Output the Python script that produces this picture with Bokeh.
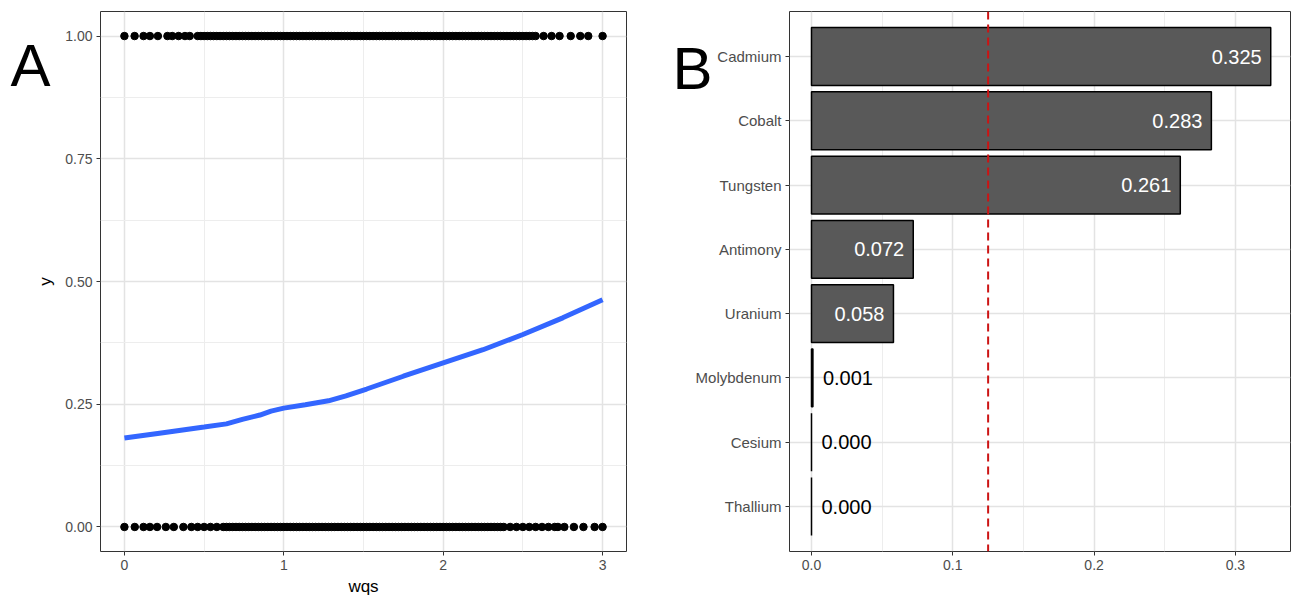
from bokeh.plotting import figure
from bokeh.layouts import row
from bokeh.models import (Range1d, FactorRange, FixedTicker, Span, Label,
                          ColumnDataSource, NumeralTickFormatter)
from bokeh.core.properties import value
from bokeh.embed import file_html
from bokeh.resources import INLINE

FONT = "Liberation Sans"

# ---------------- data (panel A) ----------------
# wqs values of subjects with outcome y = 1
wqs_outcome1 = [0.00, 0.064, 0.12, 0.16, 0.21, 0.27, 0.30, 0.34, 0.38, 0.41, 0.46,
                0.48, 0.50, 0.52, 0.54, 0.56, 0.58, 0.60, 0.62, 0.64, 0.66, 0.68,
                0.70, 0.72, 0.74, 0.76, 0.78, 0.80, 0.82, 0.84, 0.86, 0.88, 0.90,
                0.92, 0.94, 0.96, 0.98, 1.00, 1.02, 1.04, 1.06, 1.08, 1.10, 1.12,
                1.14, 1.16, 1.18, 1.20, 1.22, 1.24, 1.26, 1.28, 1.30, 1.32, 1.34,
                1.36, 1.38, 1.40, 1.42, 1.44, 1.46, 1.48, 1.50, 1.52, 1.54, 1.56,
                1.58, 1.60, 1.62, 1.64, 1.66, 1.68, 1.70, 1.72, 1.74, 1.76, 1.78,
                1.80, 1.82, 1.84, 1.86, 1.88, 1.90, 1.92, 1.94, 1.96, 1.98, 2.00,
                2.02, 2.04, 2.06, 2.08, 2.10, 2.12, 2.14, 2.16, 2.18, 2.20, 2.22,
                2.24, 2.26, 2.28, 2.30, 2.32, 2.34, 2.36, 2.38, 2.40, 2.42, 2.44,
                2.46, 2.48, 2.50, 2.52, 2.54, 2.56, 2.58, 2.63, 2.68, 2.73, 2.80,
                2.86, 2.91, 3.00]
# wqs values of subjects with outcome y = 0
wqs_outcome0 = [0.00, 0.065, 0.12, 0.16, 0.205, 0.26, 0.31, 0.37, 0.42, 0.46, 0.50,
                0.54, 0.58, 0.62, 0.64, 0.66, 0.68, 0.70, 0.72, 0.74, 0.76, 0.78,
                0.80, 0.82, 0.84, 0.86, 0.88, 0.90, 0.92, 0.94, 0.96, 0.98, 1.00,
                1.02, 1.04, 1.06, 1.08, 1.10, 1.12, 1.14, 1.16, 1.18, 1.20, 1.22,
                1.24, 1.26, 1.28, 1.30, 1.32, 1.34, 1.36, 1.38, 1.40, 1.42, 1.44,
                1.46, 1.48, 1.50, 1.52, 1.54, 1.56, 1.58, 1.60, 1.62, 1.64, 1.66,
                1.68, 1.70, 1.72, 1.74, 1.76, 1.78, 1.80, 1.82, 1.84, 1.86, 1.88,
                1.90, 1.92, 1.94, 1.96, 1.98, 2.00, 2.02, 2.04, 2.06, 2.08, 2.10,
                2.12, 2.14, 2.16, 2.18, 2.20, 2.22, 2.24, 2.26, 2.28, 2.30, 2.32,
                2.34, 2.36, 2.38, 2.42, 2.46, 2.50, 2.54, 2.58, 2.62, 2.66, 2.70,
                2.72, 2.76, 2.82, 2.88, 2.95, 3.00]
# smoothed fit (blue curve)
smooth_wqs = [0.0, 0.22, 0.5, 0.64, 0.74, 0.85, 0.92, 1.0, 1.135, 1.28, 1.39, 1.52,
              1.75, 2.0, 2.25, 2.5, 2.75, 3.0]
smooth_fit = [0.181, 0.191, 0.2035, 0.210, 0.219, 0.228, 0.236, 0.242, 0.249, 0.257,
              0.267, 0.281, 0.307, 0.334, 0.361, 0.392, 0.426, 0.463]
a_x_ticks = [0, 1, 2, 3]
a_y_ticks = [0.0, 0.25, 0.5, 0.75, 1.0]

# ---------------- data (panel B) ----------------
metals = ["Cadmium", "Cobalt", "Tungsten", "Antimony", "Uranium",
          "Molybdenum", "Cesium", "Thallium"]
weights = [0.325, 0.283, 0.261, 0.072, 0.058, 0.001, 0.000, 0.000]
weight_labels = ["0.325", "0.283", "0.261", "0.072", "0.058", "0.001", "0.000", "0.000"]
b_x_ticks = [0.0, 0.1, 0.2, 0.3]
cutoff = 1.0 / len(metals)

# ---------------- geometry (page pixels) ----------------
H = 598
SHIFT_A = 12                      # left figure pulled left by this many px
A_LEFT, A_RIGHT, A_TOP, A_BOT = 100, 626, 11, 553
B_ORIGIN = 640
B_LEFT, B_RIGHT, B_TOP, B_BOT = 789, 1290, 11, 575
W1 = B_ORIGIN + SHIFT_A
W2 = 1293 - B_ORIGIN


def midpoints(t):
    return [(a + b) / 2 for a, b in zip(t[:-1], t[1:])]


def style(p, cat_size="14px"):
    p.background_fill_color = "white"
    p.border_fill_color = "white"
    p.outline_line_color = "#333333"
    p.outline_line_width = 1
    for ax in p.axis:
        ax.axis_line_color = None
        ax.major_tick_line_color = "#333333"
        ax.major_tick_line_width = 1
        ax.major_tick_out = 4
        ax.major_tick_in = 0
        ax.minor_tick_line_color = None
        ax.major_label_text_font = FONT
        ax.major_label_text_font_size = "14px"
        ax.major_label_text_color = "#4D4D4D"
        ax.major_label_standoff = 4
        ax.axis_label_text_font = FONT
        ax.axis_label_text_font_size = "17px"
        ax.axis_label_text_font_style = "normal"
        ax.axis_label_text_color = "black"
    for g in p.grid:
        g.grid_line_color = "#E3E3E3"
        g.grid_line_width = 1.5
        g.minor_grid_line_color = "#EDEDED"
        g.minor_grid_line_width = 1


# ---------------- panel A ----------------
ax_lo, ax_hi = -0.15, 3.15
ay_lo, ay_hi = -0.05, 1.05
pa = figure(width=W1, height=H, output_backend="svg", toolbar_location=None,
            x_range=Range1d(ax_lo, ax_hi), y_range=Range1d(ay_lo, ay_hi),
            min_border_left=A_LEFT + SHIFT_A, min_border_right=W1 - SHIFT_A - A_RIGHT,
            min_border_top=A_TOP, min_border_bottom=H - A_BOT,
            margin=(0, 0, 0, -SHIFT_A))
style(pa)
pa.xaxis.ticker = FixedTicker(ticks=a_x_ticks, minor_ticks=midpoints(a_x_ticks))
pa.yaxis.ticker = FixedTicker(ticks=a_y_ticks, minor_ticks=midpoints(a_y_ticks))
pa.xaxis.formatter = NumeralTickFormatter(format="0")
pa.yaxis.formatter = NumeralTickFormatter(format="0.00")
pa.xaxis.axis_label = "wqs"
pa.yaxis.axis_label = "y"
pa.xaxis.axis_label_standoff = 4
pa.yaxis.axis_label_standoff = 7

pa.scatter(x=wqs_outcome1, y=[1] * len(wqs_outcome1), size=7.5,
           fill_color="black", line_color="black")
pa.scatter(x=wqs_outcome0, y=[0] * len(wqs_outcome0), size=7.5,
           fill_color="black", line_color="black")
pa.line(x=smooth_wqs, y=smooth_fit, line_color="#3366FF", line_width=5)

# panel tag "A" (placed in the left side panel so it is not clipped to the frame)
tag_a_x = ax_lo + (10 - A_LEFT) * (ax_hi - ax_lo) / (A_RIGHT - A_LEFT)
tag_a_y = ay_hi - (65 - A_TOP) * (ay_hi - ay_lo) / (A_BOT - A_TOP)
pa.add_layout(Label(x=tag_a_x, y=tag_a_y, text="A", text_font=FONT,
                    text_font_size="60px", text_color="black",
                    text_align="left", text_baseline="alphabetic"), "left")

# ---------------- panel B ----------------
bx_lo = -(B_LEFT - 811) / 1413.0 * -1 * -1 if False else -0.01557
bx_hi = bx_lo + (B_RIGHT - B_LEFT) / 1413.0
pb = figure(width=W2, height=H, output_backend="svg", toolbar_location=None,
            x_range=Range1d(bx_lo, bx_hi),
            y_range=FactorRange(factors=metals[::-1], range_padding=0.2,
                                range_padding_units="absolute"),
            min_border_left=B_LEFT - B_ORIGIN, min_border_right=1293 - B_RIGHT,
            min_border_top=B_TOP, min_border_bottom=H - B_BOT)
style(pb)
pb.yaxis.major_label_text_font_size = "15px"
pb.xaxis.ticker = FixedTicker(ticks=b_x_ticks, minor_ticks=midpoints(b_x_ticks))
pb.xaxis.formatter = NumeralTickFormatter(format="0.0")
pb.ygrid.minor_grid_line_color = None

src = ColumnDataSource(dict(metal=metals, weight=weights, label=weight_labels))
pb.hbar(y="metal", left=0, right="weight", height=0.9, source=src,
        fill_color="#595959", line_color="black", line_width=1.5)

inside = [w > 0.05 for w in weights]
src_in = ColumnDataSource(dict(
    metal=[m for m, k in zip(metals, inside) if k],
    weight=[w for w, k in zip(weights, inside) if k],
    label=[l for l, k in zip(weight_labels, inside) if k]))
src_out = ColumnDataSource(dict(
    metal=[m for m, k in zip(metals, inside) if not k],
    weight=[w for w, k in zip(weights, inside) if not k],
    label=[l for l, k in zip(weight_labels, inside) if not k]))
pb.text(x="weight", y="metal", text="label", source=src_in, x_offset=-9,
        text_align="right", text_baseline="middle", text_color="white",
        text_font=value(FONT), text_font_size="20px")
pb.text(x="weight", y="metal", text="label", source=src_out, x_offset=10,
        text_align="left", text_baseline="middle", text_color="black",
        text_font=value(FONT), text_font_size="20px")

pb.add_layout(Span(location=cutoff, dimension="height", line_color="#CC1414",
                   line_dash="8 5", line_width=2))

# panel tag "B"
ny = len(metals) + 0.2
tag_b_x = bx_lo + (672 - B_LEFT) * (bx_hi - bx_lo) / (B_RIGHT - B_LEFT)
tag_b_y = (ny - 0.1) - (65 - B_TOP) * ny / (B_BOT - B_TOP)
pb.add_layout(Label(x=tag_b_x, y=tag_b_y, text="B", text_font=FONT,
                    text_font_size="60px", text_color="black",
                    text_align="left", text_baseline="alphabetic"), "left")

layout = row(pa, pb)
open("out.html", "w").write(file_html(layout, INLINE))
